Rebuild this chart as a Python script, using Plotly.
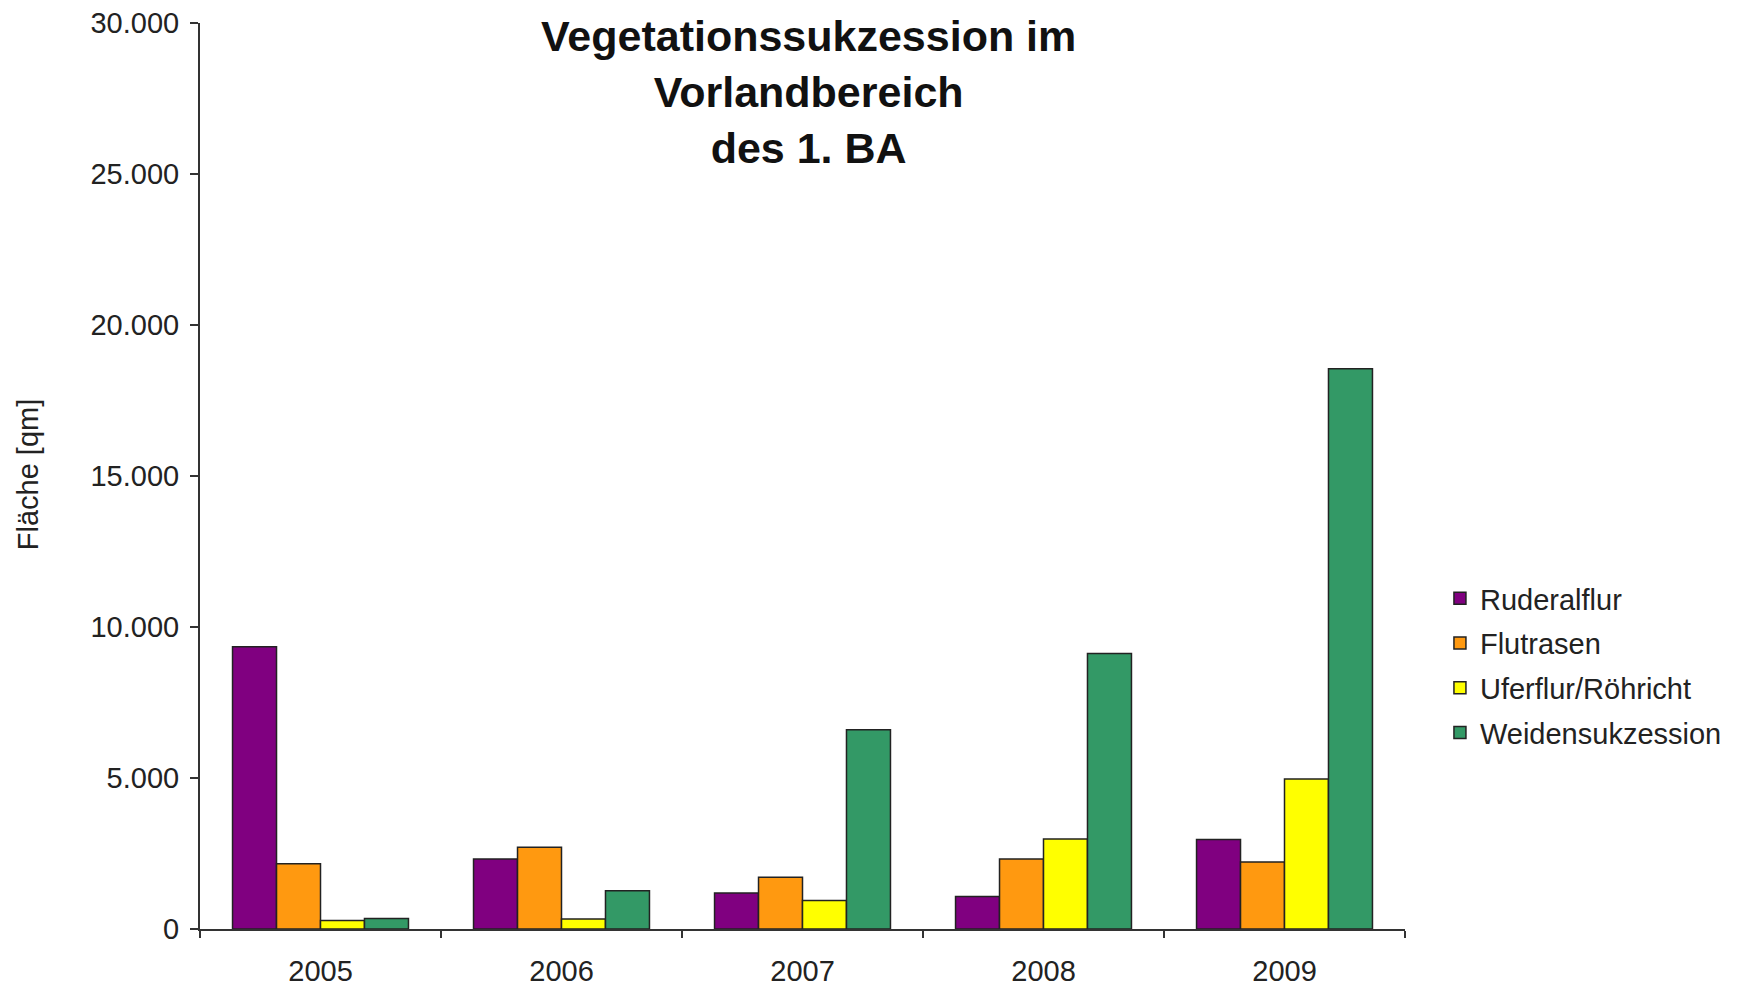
import plotly.graph_objects as go

years = ["2005", "2006", "2007", "2008", "2009"]
ruderalflur = [9350, 2320, 1190, 1080, 2960]
flutrasen = [2160, 2710, 1710, 2320, 2220]
uferflur = [280, 330, 940, 2980, 4970]
weiden = [350, 1270, 6600, 9120, 18550]

series_names = ["Ruderalflur", "Flutrasen", "Uferflur/Röhricht", "Weidensukzession"]
series_values = [ruderalflur, flutrasen, uferflur, weiden]
colors = ["#800080", "#FF9910", "#FFFF00", "#339966"]

title_text = "Vegetationssukzession im<br>Vorlandbereich<br>des 1. BA"
y_title = "Fläche [qm]"
y_ticks = [0, 5000, 10000, 15000, 20000, 25000, 30000]

FONT = "Liberation Sans, Arial, sans-serif"

fig = go.Figure()
for name, vals, col in zip(series_names, series_values, colors):
    fig.add_trace(go.Bar(
        x=years, y=vals, name=name, legendgroup=name,
        marker=dict(color=col, line=dict(color="#222222", width=1.5)),
    ))

fig.update_layout(
    width=1748, height=990,
    paper_bgcolor="white", plot_bgcolor="white",
    margin=dict(l=192, r=351, t=15, b=69),
    separators=",.",
    barmode="group", bargap=0.27, bargroupgap=0,
    font=dict(family=FONT, size=28, color="#222222"),
    legend=dict(x=1.029, xanchor="left", y=0.393, yanchor="top",
                font=dict(family=FONT, size=29, color="#222222"),
                tracegroupgap=4, bgcolor="rgba(0,0,0,0)"),
    showlegend=True,
)
fig.add_annotation(
    text=title_text, xref="paper", yref="paper", x=0.5046, y=0.924,
    xanchor="center", yanchor="middle", showarrow=False, align="center",
    font=dict(family=FONT, size=43, color="#111111", weight="bold"),
)
fig.add_annotation(
    text=y_title, xref="paper", yref="paper", x=-0.1427, y=0.502,
    xanchor="center", yanchor="middle", showarrow=False, textangle=-90,
    font=dict(family=FONT, size=29, color="#222222"),
)
fig.update_xaxes(
    showline=True, linecolor="#333333", linewidth=2,
    ticks="outside", tickson="boundaries", ticklen=7, tickcolor="#333333", tickwidth=2,
    showgrid=False, tickfont=dict(size=29), fixedrange=True, ticklabelstandoff=15,
    automargin=False,
)
fig.update_yaxes(
    range=[0, 30000], tickvals=y_ticks, tickformat=",d",
    showline=True, linecolor="#333333", linewidth=2,
    ticks="outside", ticklen=8, tickcolor="#333333", tickwidth=2,
    showgrid=False, zeroline=False, tickfont=dict(size=29),
    ticklabeloverflow="allow", ticklabelstandoff=5, automargin=False,
)

fig.write_html("out.html")
